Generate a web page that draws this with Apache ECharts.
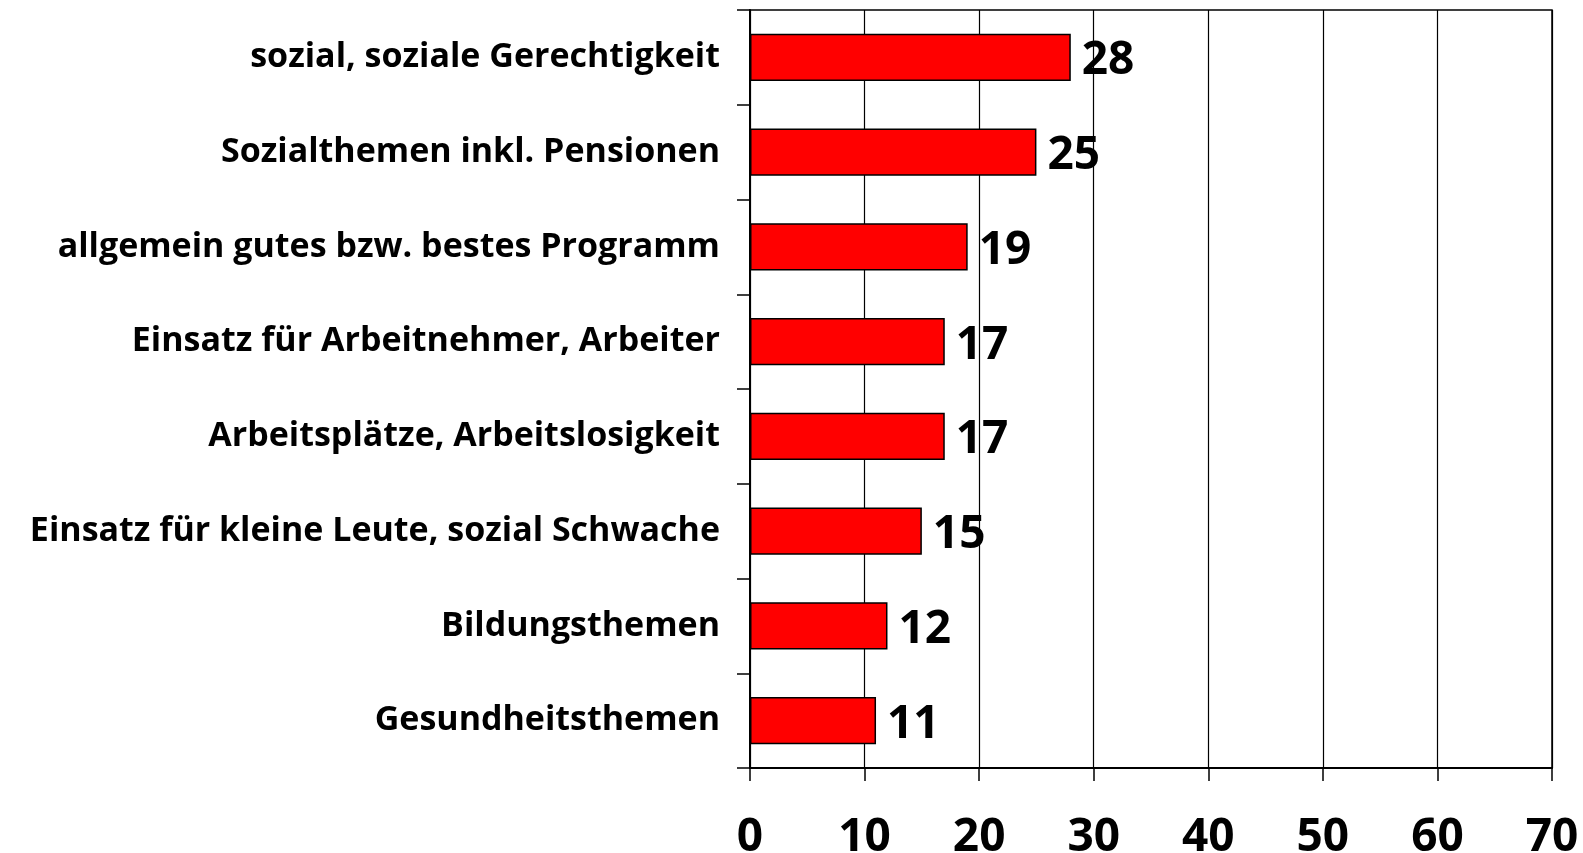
<!DOCTYPE html>
<html>
<head>
<meta charset="utf-8">
<script src="https://cdn.jsdelivr.net/npm/echarts@6/dist/echarts.min.js"></script>
<style>
  html, body { margin: 0; padding: 0; background: #fff; }
  #chart { width: 1583px; height: 853px; }
</style>
</head>
<body>
<div id="chart"></div>
<script>
const categories = [
  'sozial, soziale Gerechtigkeit',
  'Sozialthemen inkl. Pensionen',
  'allgemein gutes bzw. bestes Programm',
  'Einsatz für Arbeitnehmer, Arbeiter',
  'Arbeitsplätze, Arbeitslosigkeit',
  'Einsatz für kleine Leute, sozial Schwache',
  'Bildungsthemen',
  'Gesundheitsthemen'
]
const values = [28, 25, 19, 17, 17, 15, 12, 11]
const xTicks = [0, 70, 10] // min, max, interval

const chart = echarts.init(document.getElementById('chart'))
chart.setOption({
  animation: false,
  grid: {
    left: 750,
    right: 31,
    top: 10,
    bottom: 85,
    outerBoundsMode: 'none',
    containLabel: false,
    show: true,
    borderColor: '#000',
    borderWidth: 1.5
  },
  xAxis: {
    type: 'value',
    min: xTicks[0],
    max: xTicks[1],
    interval: xTicks[2],
    axisLine: { show: true, lineStyle: { color: '#000', width: 2 } },
    axisTick: { show: true, inside: false, length: 13, lineStyle: { color: '#000', width: 1.5 } },
    splitLine: { show: true, lineStyle: { color: '#000', width: 1.2 } },
    axisLabel: {
      margin: 47,
      color: '#000',
      fontFamily: 'Open Sans',
      fontWeight: 'bold',
      fontSize: 46
    }
  },
  yAxis: {
    type: 'category',
    inverse: true,
    data: categories,
    axisLine: { show: true, lineStyle: { color: '#000', width: 2 } },
    axisTick: { show: true, length: 13, lineStyle: { color: '#000', width: 1.5 } },
    axisLabel: {
      margin: 30,
      padding: [8, 0, 0, 0],
      color: '#000',
      fontFamily: 'Open Sans',
      fontWeight: 'bold',
      fontSize: 34
    }
  },
  series: [{
    type: 'bar',
    data: values,
    barWidth: '50%',
    itemStyle: { color: '#ff0000', borderColor: '#000', borderWidth: 1.5 },
    label: {
      show: true,
      position: 'right',
      distance: 11,
      offset: [0, 4],
      color: '#000',
      fontFamily: 'Open Sans',
      fontWeight: 'bold',
      fontSize: 46
    }
  }]
})
</script>
</body>
</html>
